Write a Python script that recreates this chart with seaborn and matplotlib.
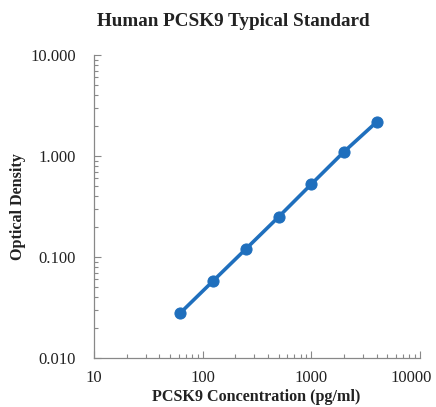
import pandas as pd
import matplotlib
matplotlib.use("Agg")
import matplotlib.pyplot as plt
import matplotlib.ticker as mticker
import matplotlib.transforms as mtransforms
import seaborn as sns

# data
concentration = [62.5, 125, 250, 500, 1000, 2000, 4000]
optical_density = [0.028, 0.058, 0.120, 0.249, 0.525, 1.10, 2.17]

x_ticks = [10, 100, 1000, 10000]
y_ticks = [0.01, 0.1, 1, 10]

df = pd.DataFrame({"conc": concentration, "od": optical_density})

sns.set_style("white")
plt.rcParams["font.family"] = ["Liberation Serif", "DejaVu Serif"]

fig = plt.figure(figsize=(4.36, 4.07), dpi=100)
ax = fig.add_axes([0.2156, 0.1204, 0.7474, 0.7445])

sns.lineplot(data=df, x="conc", y="od", ax=ax, color="#1f6fbd",
             linewidth=2.6, marker="o", markersize=8,
             markeredgecolor="#1f6fbd")

ax.set_xscale("log")
ax.set_yscale("log")
ax.set_xlim(10, 10000)
ax.set_ylim(0.01, 10)

ax.xaxis.set_major_locator(mticker.FixedLocator(x_ticks))
ax.yaxis.set_major_locator(mticker.FixedLocator(y_ticks))
ax.xaxis.set_major_formatter(mticker.FuncFormatter(lambda v, p: f"{v:.0f}"))
ax.yaxis.set_major_formatter(mticker.FuncFormatter(lambda v, p: f"{v:.3f}"))
ax.xaxis.set_minor_locator(mticker.LogLocator(base=10, subs=range(2, 10)))
ax.yaxis.set_minor_locator(mticker.LogLocator(base=10, subs=range(2, 10)))
ax.xaxis.set_minor_formatter(mticker.NullFormatter())
ax.yaxis.set_minor_formatter(mticker.NullFormatter())

ax.tick_params(which="both", direction="in", color="#888888",
               labelsize=12, labelcolor="#222222", bottom=True, left=True)
ax.tick_params(which="major", length=5, width=0.8)
ax.tick_params(which="minor", length=3, width=0.8)
ax.tick_params(axis="y", which="major", pad=13)
ax.tick_params(axis="x", which="major", pad=9)

sns.despine(ax=ax)
for s in ["left", "bottom"]:
    ax.spines[s].set_color("#888888")
    ax.spines[s].set_linewidth(0.9)

ax.set_xlabel("PCSK9 Concentration (pg/ml)", fontsize=11.6, fontweight="bold",
              color="#222222", va="center")
ax.set_ylabel("Optical Density", fontsize=11.6, fontweight="bold",
              color="#222222", va="center")
ax.xaxis.set_label_coords(0.497, -0.129)
ax.yaxis.set_label_coords(-0.233, 0.5)
fig.text(0.5355, 0.946, "Human PCSK9 Typical Standard", fontsize=13.8,
         fontweight="bold", color="#222222", ha="center", va="center")

# keep the rightmost tick label inside the canvas
fig.canvas.draw()
last = ax.xaxis.get_major_ticks()[-1].label1
last.set_transform(last.get_transform() +
                   mtransforms.ScaledTranslation(-6 / 72, 0, fig.dpi_scale_trans))

fig.savefig("out.png", dpi=100, facecolor="white")
